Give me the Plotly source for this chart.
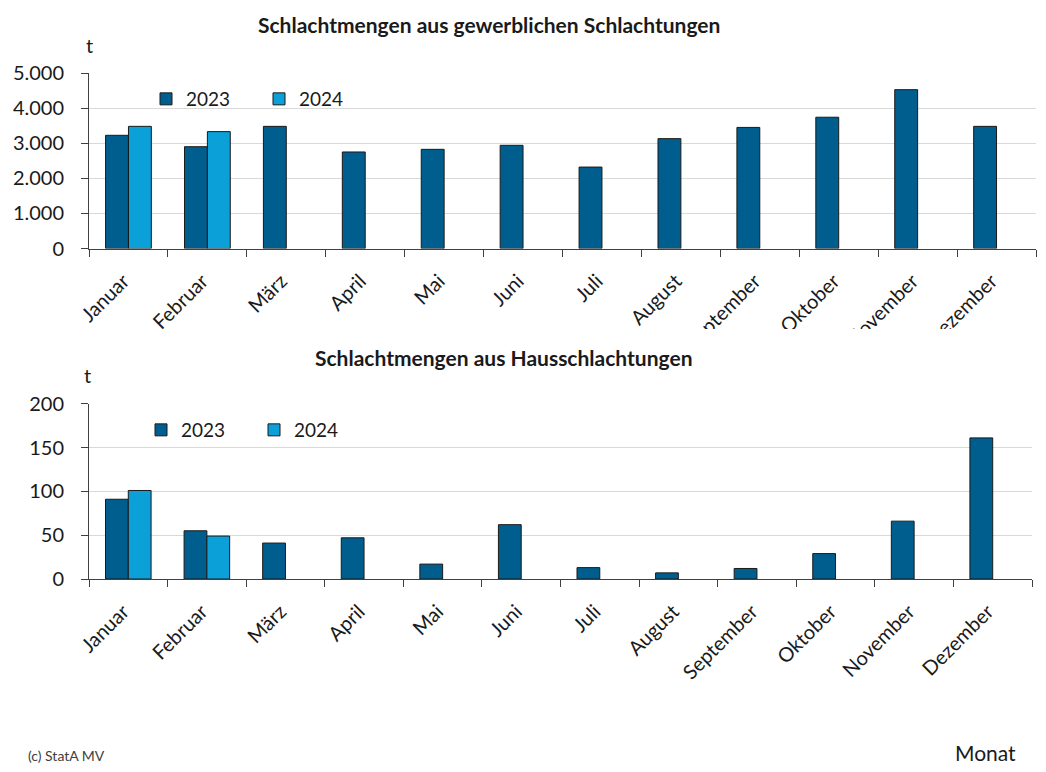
"""
Schlachtmengen MV: gewerbliche Schlachtungen und Hausschlachtungen, 2023/2024.
"""

import plotly.graph_objects as go

# die Seite hat 8px Rand, die Grafik wird daher etwas kleiner angelegt
PAGE_MARGIN = 8
W, H = 1046 - 2 * PAGE_MARGIN, 772 - 2 * PAGE_MARGIN

MONATE = [
    "Januar", "Februar", "März", "April", "Mai", "Juni",
    "Juli", "August", "September", "Oktober", "November", "Dezember",
]

# gewerbliche Schlachtungen (t)
GEWERBE_2023 = [3225, 2900, 3480, 2750, 2825, 2940, 2320, 3130, 3450, 3740, 4525, 3480]
GEWERBE_2024 = [3480, 3330, None, None, None, None, None, None, None, None, None, None]

# Hausschlachtungen (t)
HAUS_2023 = [91, 55, 41, 47, 17, 62, 13, 7, 12, 29, 66, 161]
HAUS_2024 = [101, 49, None, None, None, None, None, None, None, None, None, None]

DARK = "#005E8F"
LIGHT = "#0BA0D8"
FONT = "Lato, 'Open Sans', sans-serif"


def px_x(x):
    """Pixel im Bild -> paper-Koordinate."""
    return (x - PAGE_MARGIN) / W


def px_y(y):
    return 1 - (y - PAGE_MARGIN) / H


fig = go.Figure()

series = [
    (GEWERBE_2023, "2023", DARK, "x", "y", "legend"),
    (GEWERBE_2024, "2024", LIGHT, "x", "y", "legend"),
    (HAUS_2023, "2023", DARK, "x2", "y2", "legend2"),
    (HAUS_2024, "2024", LIGHT, "x2", "y2", "legend2"),
]
for values, name, color, xa, ya, leg in series:
    fig.add_trace(
        go.Bar(
            x=MONATE,
            y=values,
            name=name,
            marker=dict(color=color, line=dict(color="#1a1a1a", width=1)),
            xaxis=xa,
            yaxis=ya,
            legend=leg,
        )
    )

xaxis_common = dict(
    showline=True,
    linecolor="#404040",
    linewidth=1,
    ticks="outside",
    ticklen=7,
    tickcolor="#404040",
    tickson="boundaries",
    tickangle=-45,
    tickfont=dict(size=20, color="#1a1a1a"),
    ticklabelstandoff=12,
    ticklabelshift=-5,
    showgrid=False,
    automargin=False,
    fixedrange=True,
)
yaxis_common = dict(
    showline=True,
    linecolor="#404040",
    linewidth=1,
    ticks="outside",
    ticklen=7,
    tickcolor="#404040",
    gridcolor="#D9D9D9",
    gridwidth=1,
    tickfont=dict(size=20, color="#1a1a1a"),
    ticklabelstandoff=13,
    tickformat=",d",
    zeroline=False,
    automargin=False,
    fixedrange=True,
)

legend_common = dict(
    orientation="h",
    xanchor="left",
    yanchor="top",
    font=dict(size=19, color="#1a1a1a", family=FONT),
    bgcolor="rgba(0,0,0,0)",
    entrywidth=68,
    itemwidth=30,
)

fig.update_layout(
    width=W,
    height=H,
    margin=dict(l=0, r=0, t=0, b=0, autoexpand=False),
    plot_bgcolor="white",
    paper_bgcolor="white",
    font=dict(family=FONT, color="#1a1a1a"),
    separators=",.",
    barmode="group",
    bargap=0.42,
    bargroupgap=0,
    xaxis=dict(domain=[px_x(89), px_x(1036)], anchor="y", **xaxis_common),
    yaxis=dict(domain=[px_y(248.5), px_y(73)], anchor="x", range=[0, 5000], dtick=1000, **yaxis_common),
    xaxis2=dict(domain=[px_x(89), px_x(1032)], anchor="y2", **xaxis_common),
    yaxis2=dict(domain=[px_y(579), px_y(403.7)], anchor="x2", range=[0, 200], dtick=50, **yaxis_common),
    legend=dict(x=px_x(146), y=px_y(80), **legend_common),
    legend2=dict(x=px_x(141), y=px_y(411), **legend_common),
)

# Texte
texts = [
    ("Schlachtmengen aus gewerblichen Schlachtungen", 489, 25, 21, True, "center"),
    ("t", 84, 45, 20, False, "left"),
    ("Schlachtmengen aus Hausschlachtungen", 503, 357, 21, True, "center"),
    ("t", 82, 375, 20, False, "left"),
    ("(c) StatA MV", 26, 755, 14, False, "left"),
    ("Monat", 953, 752, 21, False, "left"),
]
for text, x, y, size, bold, anchor in texts:
    fig.add_annotation(
        text=f"<b>{text}</b>" if bold else text,
        x=px_x(x), y=px_y(y),
        xref="paper", yref="paper",
        xanchor=anchor, yanchor="middle",
        showarrow=False,
        font=dict(size=size, color="#1a1a1a" if text != "(c) StatA MV" else "#404040"),
    )

# Monatsbeschriftungen oben werden im Original abgeschnitten
fig.add_shape(
    type="rect", xref="paper", yref="paper",
    x0=0, x1=1, y0=px_y(354), y1=px_y(329),
    fillcolor="white", line_width=0, layer="above",
)

fig.write_html("out.html")
